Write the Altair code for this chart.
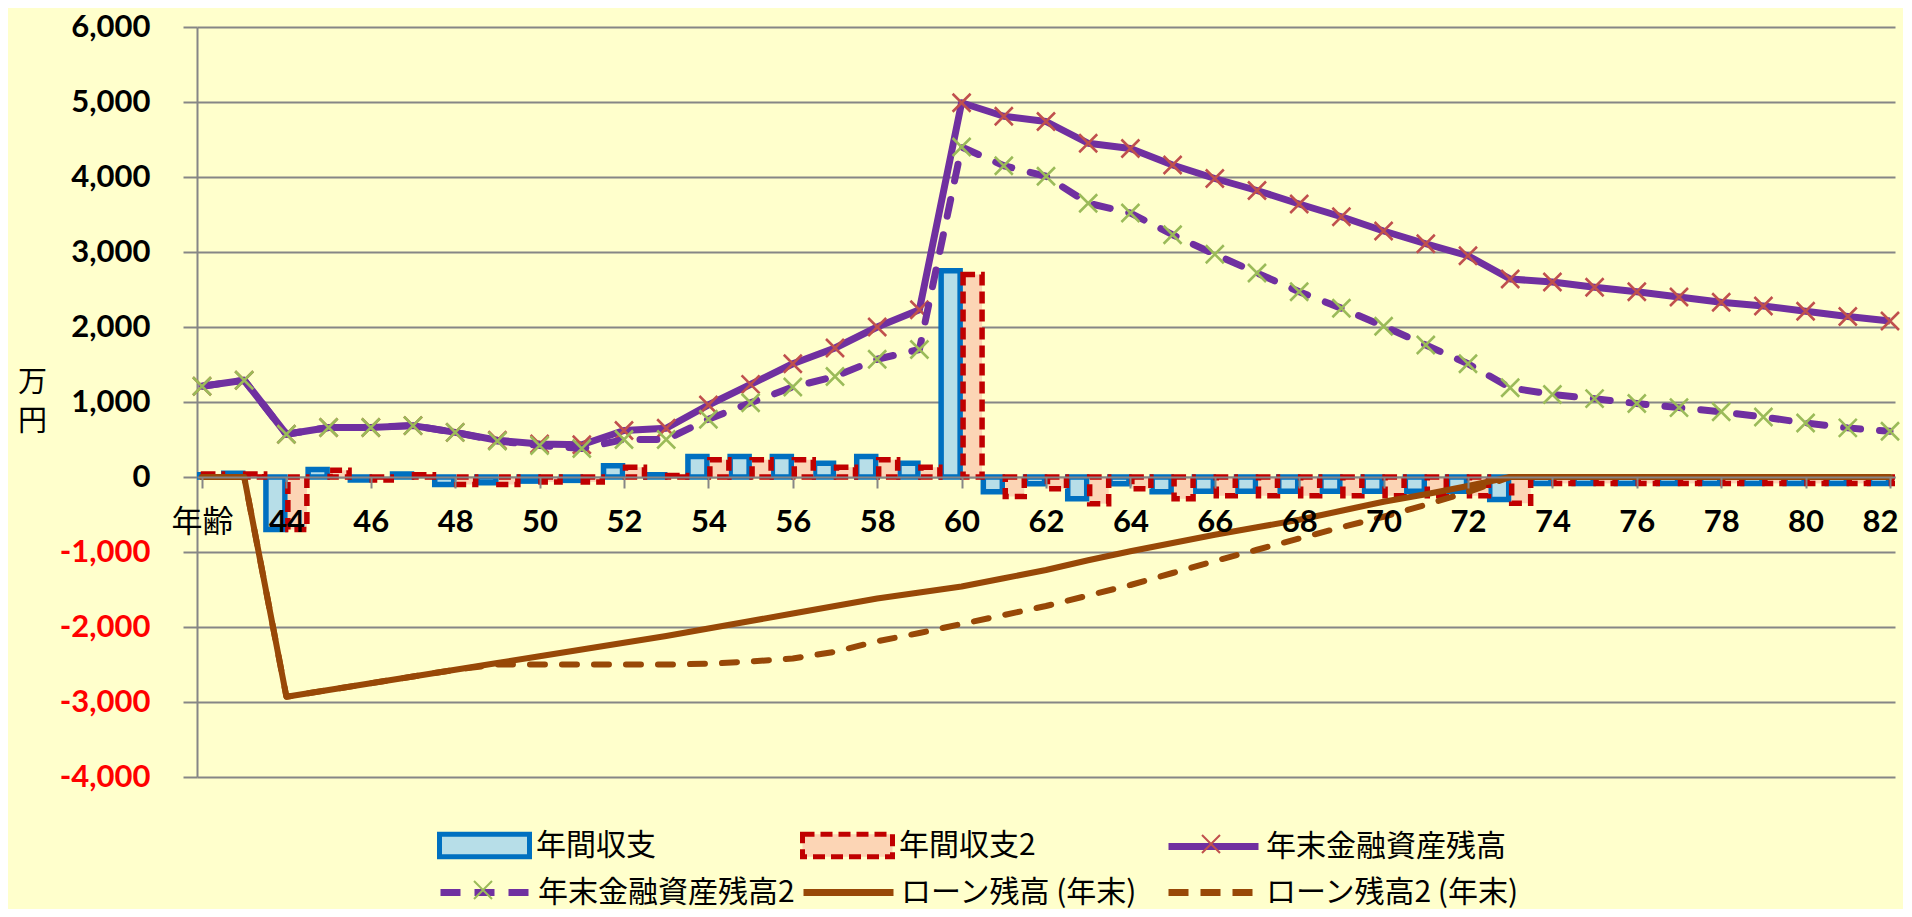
import altair as alt
import pandas as pd

# ---------------- data ----------------
ages = list(range(42, 83))

series_names = ["年間収支", "年間収支2", "年末金融資産残高", "年末金融資産残高2",
                "ローン残高 (年末)", "ローン残高2 (年末)"]

income1 = [30, 50, -700, 100, -40, 40, -100, -75, -55, -45,
           150, 30, 275, 275, 275, 185, 275, 185, 2750, -195,
           -90, -290, -90, -195, -190, -190, -190, -190, -190, -190,
           -190, -300, -85, -85, -85, -85, -85, -85, -85, -85, -85]

income2 = [40, 40, -700, 90, -40, 30, -100, -100, -65, -65,
           130, 20, 230, 230, 230, 130, 230, 130, 2700, -260,
           -155, -355, -155, -290, -250, -250, -250, -250, -250, -250,
           -250, -350, -85, -85, -85, -85, -85, -85, -85, -85, -85]

assets1 = [1210, 1290, 570, 660, 660, 685, 595, 490, 440, 430,
           620, 650, 960, 1235, 1510, 1720, 2000, 2230, 4990, 4810,
           4740, 4450, 4380, 4160, 3980, 3820, 3640, 3470, 3280, 3110,
           2950, 2640, 2600, 2530, 2470, 2400, 2330, 2280, 2210, 2140, 2080]

assets2 = [1210, 1290, 570, 660, 660, 685, 595, 480, 420, 380,
           500, 500, 770, 990, 1200, 1340, 1570, 1700, 4400, 4150,
           4010, 3650, 3520, 3230, 2970, 2720, 2470, 2250, 2010, 1760,
           1510, 1190, 1100, 1045, 980, 925, 870, 800, 720, 655, 610]

loan1 = [0, 0, -2930, -2840, -2750, -2660, -2570, -2480, -2390, -2300,
         -2210, -2120, -2020, -1920, -1820, -1720, -1620, -1540, -1460, -1350,
         -1240, -1110, -990, -880, -770, -670, -570, -450, -330, -230,
         -120, 0, 0, 0, 0, 0, 0, 0, 0, 0, 0]

loan2 = [0, 0, -2930, -2840, -2750, -2660, -2570, -2500, -2500, -2500,
         -2500, -2500, -2490, -2460, -2420, -2330, -2190, -2080, -1960, -1840,
         -1720, -1580, -1440, -1280, -1120, -970, -820, -670, -530, -370,
         -200, 0, 0, 0, 0, 0, 0, 0, 0, 0, 0]

x_ticks = list(range(42, 83, 2))
y_ticks = list(range(-4000, 6001, 1000))

df = pd.DataFrame({"age": ages, "inc1": income1, "inc2": income2,
                   "as1": assets1, "as2": assets2, "ln1": loan1, "ln2": loan2})

# ---------------- styling ----------------
BG = "#FFFFCC"
GRID = "#868686"
XPATH = "M-1,-1L1,1M1,-1L-1,1"
RECT = "M-1,-0.25H1V0.25H-1Z"
LEG_FONT = "Noto Sans CJK JP"

xs = alt.Scale(domain=[42, 82], nice=False, zero=False)
ys = alt.Scale(domain=[-4000, 6000], nice=False, zero=False)

x_axis = alt.Axis(
    values=x_ticks, title=None, offset=-300, zindex=1,
    labelExpr="datum.value == 42 ? '年齢' : format(datum.value, 'd')",
    labelFont={"condition": {"test": "datum.value == 42", "value": LEG_FONT}, "value": "Lato"},
    labelFontWeight={"condition": {"test": "datum.value == 42", "value": "normal"}, "value": "bold"},
    labelFontSize=31,
    labelOffset={"condition": {"test": "datum.value == 82", "value": -10}, "value": 0},
    labelColor="black", labelBaseline="middle", labelPadding=34, labelFlush=False,
    labelOverlap=False,
    domainColor=GRID, domainWidth=2, tickColor=GRID, tickWidth=2, tickSize=11, grid=False)

y_axis = alt.Axis(
    values=y_ticks, zindex=0,
    labelExpr="(datum.value < 0 ? '-' : '') + format(abs(datum.value), ',')",
    labelFont="Lato", labelFontWeight="bold", labelFontSize=31,
    labelColor={"condition": {"test": "datum.value < 0", "value": "#FF0000"}, "value": "black"},
    labelPadding=33, labelBaseline="middle",
    grid=True, gridColor=GRID, gridWidth=2,
    domainColor=GRID, domainWidth=2, tickColor=GRID, tickWidth=2, tickSize=14,
    title=["万", "円"], titleAngle=0, titleX=-165, titleY=355, titleAlign="center",
    titleBaseline="middle", titleFont=LEG_FONT, titleFontSize=29, titleFontWeight="normal",
    titleLineHeight=39, titleColor="black")


def leg(x, y, **kw):
    base = dict(title=None, orient="none", legendX=x, legendY=y, padding=0,
                labelFont=LEG_FONT, labelFontSize=30, labelColor="black",
                labelLimit=600, labelOffset=4)
    base.update(kw)
    return alt.Legend(**base)


# legend rows: centre y (relative to plot top) and column x (relative to plot left)
R1, R2 = 816, 862
C1, C2, C3 = 240, 603, 968
BIG = 45   # half of the 90px legend symbol
SMALL = 9  # half of the 18px marker symbol

base = alt.Chart(df)

bar1 = base.transform_calculate(xb="datum.age - 0.26", s="'年間収支'").mark_bar(
    width=19, stroke="#0070C0", strokeWidth=5.5, clip=True).encode(
    x=alt.X("xb:Q", scale=xs, axis=x_axis),
    y=alt.Y("inc1:Q", scale=ys, axis=y_axis),
    fill=alt.Fill("s:N", scale=alt.Scale(range=["#B7DEE8"]),
                  legend=leg(C1, R1 - BIG, symbolType=RECT, symbolSize=8100,
                             symbolStrokeColor="#0070C0", symbolStrokeWidth=5,
                             symbolFillColor="#B7DEE8")))

bar2 = base.transform_calculate(xb="datum.age + 0.26", s="'年間収支2'").mark_bar(
    width=19, stroke="#C00000", strokeWidth=5.5, strokeDash=[12, 6], clip=True).encode(
    x=alt.X("xb:Q", scale=xs, axis=x_axis),
    y=alt.Y("inc2:Q", scale=ys, axis=y_axis),
    fill=alt.Fill("s:N", scale=alt.Scale(range=["#FCD5B5"]),
                  legend=leg(C2, R1 - BIG, symbolType=RECT, symbolSize=8100,
                             symbolStrokeColor="#C00000", symbolStrokeWidth=5,
                             symbolDash=[12, 6], symbolFillColor="#FCD5B5")))

line1 = base.transform_calculate(s="'年末金融資産残高'").mark_line(
    strokeWidth=7, strokeJoin="round").encode(
    x=alt.X("age:Q", scale=xs, axis=x_axis),
    y=alt.Y("as1:Q", scale=ys, axis=y_axis),
    stroke=alt.Stroke("s:N", scale=alt.Scale(range=["#7030A0"]),
                      legend=leg(C3, R1 - BIG, symbolType="stroke", symbolSize=8100,
                                 symbolStrokeWidth=7, symbolStrokeColor="#7030A0")))

pts1 = base.transform_calculate(s="'年末金融資産残高'").mark_point(
    shape=XPATH, size=324, strokeWidth=2.5, filled=False, opacity=1).encode(
    x=alt.X("age:Q", scale=xs, axis=x_axis),
    y=alt.Y("as1:Q", scale=ys, axis=y_axis),
    stroke=alt.Stroke("s:N", scale=alt.Scale(range=["#C0504D"]),
                      legend=leg(C3 + BIG - SMALL, R1 - SMALL, symbolType=XPATH, symbolSize=324,
                                 symbolStrokeWidth=2, symbolStrokeColor="#C0504D",
                                 labelExpr="''", labelFontSize=1)))

line2 = base.transform_calculate(s="'年末金融資産残高2'").mark_line(
    strokeWidth=7, strokeDash=[17, 19], strokeCap="round", strokeJoin="round").encode(
    x=alt.X("age:Q", scale=xs, axis=x_axis),
    y=alt.Y("as2:Q", scale=ys, axis=y_axis),
    stroke=alt.Stroke("s:N", scale=alt.Scale(range=["#7030A0"]),
                      legend=leg(C1, R2 - BIG, symbolType="stroke", symbolSize=8100,
                                 symbolStrokeWidth=7, symbolStrokeColor="#7030A0",
                                 symbolDash=[20, 14])))

pts2 = base.transform_calculate(s="'年末金融資産残高2'").mark_point(
    shape=XPATH, size=324, strokeWidth=2.5, filled=False, opacity=1).encode(
    x=alt.X("age:Q", scale=xs, axis=x_axis),
    y=alt.Y("as2:Q", scale=ys, axis=y_axis),
    stroke=alt.Stroke("s:N", scale=alt.Scale(range=["#9BBB59"]),
                      legend=leg(C1 + BIG - SMALL, R2 - SMALL, symbolType=XPATH, symbolSize=324,
                                 symbolStrokeWidth=2, symbolStrokeColor="#9BBB59",
                                 labelExpr="''", labelFontSize=1)))

loanl1 = base.transform_calculate(s="'ローン残高 (年末)'").mark_line(
    strokeWidth=6, strokeJoin="round").encode(
    x=alt.X("age:Q", scale=xs, axis=x_axis),
    y=alt.Y("ln1:Q", scale=ys, axis=y_axis),
    stroke=alt.Stroke("s:N", scale=alt.Scale(range=["#984807"]),
                      legend=leg(C2, R2 - BIG, symbolType="stroke", symbolSize=8100,
                                 symbolStrokeWidth=7, symbolStrokeColor="#984807")))

loanl2 = base.transform_calculate(s="'ローン残高2 (年末)'").mark_line(
    strokeWidth=6, strokeDash=[15, 17], strokeCap="round", strokeJoin="round").encode(
    x=alt.X("age:Q", scale=xs, axis=x_axis),
    y=alt.Y("ln2:Q", scale=ys, axis=y_axis),
    stroke=alt.Stroke("s:N", scale=alt.Scale(range=["#984807"]),
                      legend=leg(C3, R2 - BIG, symbolType="stroke", symbolSize=8100,
                                 symbolStrokeWidth=7, symbolStrokeColor="#984807",
                                 symbolDash=[20, 12])))

chart = alt.layer(bar1, bar2, loanl1, loanl2, line1, pts1, line2, pts2).resolve_scale(
    fill="independent", stroke="independent"
).properties(
    width=1698, height=750,
    autosize=alt.AutoSizeParams(type="none"),
    padding={"left": 189, "top": 19, "right": 8, "bottom": 132},
    background=BG,
).configure_view(stroke=None)

chart.save("out.html", embed_options={"renderer": "svg", "actions": False})
